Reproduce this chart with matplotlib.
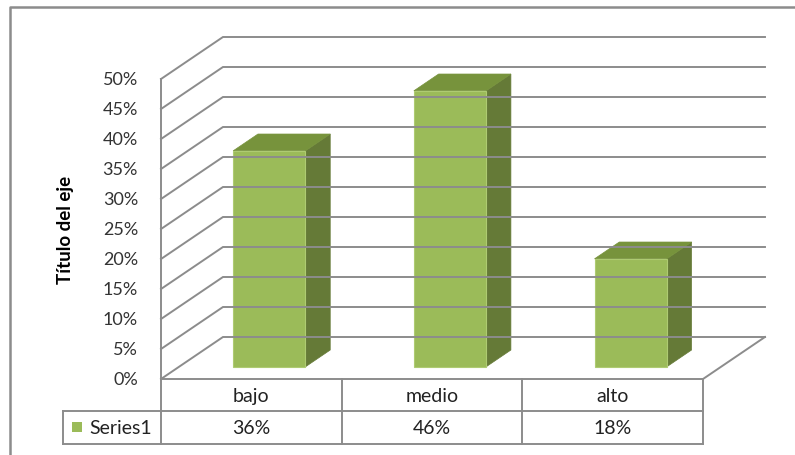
import matplotlib.pyplot as plt
from matplotlib.patches import Polygon, Rectangle
from matplotlib.lines import Line2D

plt.rcParams['font.family'] = ['Lato', 'DejaVu Sans']

categories = ['bajo', 'medio', 'alto']
values = [0.36, 0.46, 0.18]
series_name = 'Series1'
ytick_values = [0.0, 0.05, 0.10, 0.15, 0.20, 0.25, 0.30, 0.35, 0.40, 0.45, 0.50]
ytick_labels = ['0%', '5%', '10%', '15%', '20%', '25%', '30%', '35%', '40%', '45%', '50%']
axis_title = 'Título del eje'

# oblique 3d look: depth vector in data units
DX, DY = 0.343, 0.07
BAR_W = 0.40
BAR_D0 = 0.29      # where the bar front sits inside the depth
BAR_DEPTH = 0.40
ROW1, ROW2 = 0.0535, 0.1075
LEG_X = -0.542

grid_c = '#8C8C8C'
front_c = '#9BBB59'
side_c = '#657A37'
top_c = '#77933C'

W, H = 795, 456
px_x, px_y = 180.67, 600.0
fig = plt.figure(figsize=(W / 100, H / 100), dpi=100)
ax = fig.add_axes([161 / W, (H - 380) / H, 3.5 * px_x / W, 0.6 * px_y / H])
ax.set_xlim(0, 3.5)
ax.set_ylim(0, 0.6)
ax.axis('off')

n = len(categories)
lw = 1.4

# walls / gridlines
top = ytick_values[-1]
ax.plot([0, 0], [0, top], color=grid_c, lw=lw, clip_on=False)
for t in ytick_values:
    ax.plot([0, DX, n + DX], [t, t + DY, t + DY], color=grid_c, lw=lw,
            clip_on=False, solid_joinstyle='miter')
# floor right edge
ax.plot([n, n + DX], [0, DY], color=grid_c, lw=lw, clip_on=False)

# bars
for i, v in enumerate(values):
    x0 = i + 0.5 - BAR_W / 2 + BAR_D0 * DX
    y0 = BAR_D0 * DY
    x1 = x0 + BAR_W
    ddx, ddy = BAR_DEPTH * DX, BAR_DEPTH * DY
    side = Polygon([(x1, y0), (x1 + ddx, y0 + ddy), (x1 + ddx, y0 + ddy + v), (x1, y0 + v)],
                   closed=True, facecolor=side_c, edgecolor=side_c, lw=0.5, clip_on=False)
    topf = Polygon([(x0, y0 + v), (x1, y0 + v), (x1 + ddx, y0 + ddy + v), (x0 + ddx, y0 + ddy + v)],
                   closed=True, facecolor=top_c, edgecolor=top_c, lw=0.5, clip_on=False)
    front = Rectangle((x0, y0), BAR_W, v, facecolor=front_c, edgecolor='#AECB72',
                      lw=0.8, clip_on=False)
    for p in (side, topf, front):
        ax.add_patch(p)

# y tick labels and axis title
for t, lab in zip(ytick_values, ytick_labels):
    ax.text(-0.127, t, lab, ha='right', va='center', fontsize=13, color='#333333')
ax.text(-0.531, top / 2, axis_title, rotation=90, ha='center', va='center',
        fontsize=13.5, fontweight='bold', color='black')

# data table
ax.plot([0, n], [0, 0], color=grid_c, lw=lw, clip_on=False)
ax.plot([LEG_X, n], [-ROW1, -ROW1], color=grid_c, lw=lw, clip_on=False)
ax.plot([LEG_X, n], [-ROW2, -ROW2], color=grid_c, lw=lw, clip_on=False)
for k in range(n + 1):
    ax.plot([k, k], [0, -ROW2], color=grid_c, lw=lw, clip_on=False)
ax.plot([LEG_X, LEG_X], [-ROW1, -ROW2], color=grid_c, lw=lw, clip_on=False)
for i, (c, v) in enumerate(zip(categories, values)):
    ax.text(i + 0.5, -ROW1 / 2, c, ha='center', va='center', fontsize=14, color='#222222')
    ax.text(i + 0.5, -(ROW1 + ROW2) / 2, f'{v:.0%}', ha='center', va='center',
            fontsize=14, color='#222222')
ax.add_patch(Rectangle((-0.492, -(ROW1 + ROW2) / 2 - 0.0085), 0.055, 0.017,
                       facecolor=front_c, edgecolor='none', clip_on=False))
ax.text(-0.398, -(ROW1 + ROW2) / 2, series_name, ha='left', va='center',
        fontsize=14, color='#222222')

# chart area border
fig.add_artist(Line2D([10 / W, 10 / W, 1.01], [-0.01, 1 - 8 / H, 1 - 8 / H],
                      color=grid_c, lw=1.8, transform=fig.transFigure))

fig.savefig('out.png', dpi=100)
